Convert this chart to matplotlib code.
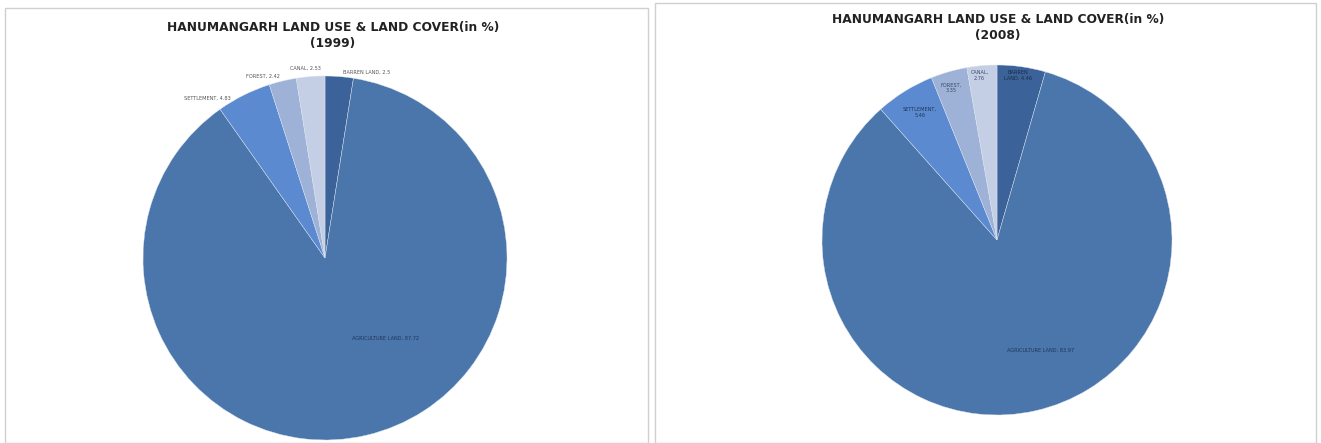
import matplotlib.pyplot as plt
from matplotlib.patches import Rectangle

# land use classes, in the order Excel draws them (clockwise from 12 o'clock)
classes = ['BARREN LAND', 'AGRICULTURE LAND', 'SETTLEMENT', 'FOREST', 'CANAL']
share_1999 = [2.5, 87.72, 4.83, 2.42, 2.53]
share_2008 = [4.46, 83.97, 5.46, 3.35, 2.76]
years = ['1999', '2008']

colors = ['#3c6399', '#4a76ac', '#5b8ad0', '#9db2d6', '#c4cfe6']

fig = plt.figure(figsize=(13.21, 4.43), dpi=100)
W, H = 1321, 443

# chart frames
fig.patches.append(Rectangle((5 / W, 0), 643 / W, 1 - 8 / H, transform=fig.transFigure,
                             fill=False, edgecolor='#d0d0d0', linewidth=1))
fig.patches.append(Rectangle((655 / W, 0), 661 / W, 1 - 3 / H, transform=fig.transFigure,
                             fill=False, edgecolor='#d0d0d0', linewidth=1))


def pie_axes(cx, cy, r):
    return fig.add_axes([(cx - r) / W, (H - cy - r) / H, 2 * r / W, 2 * r / H])


def draw(ax, values, label_pos, label_text, label_ha, label_color):
    ax.pie(values, colors=colors, startangle=90, counterclock=False,
           wedgeprops=dict(edgecolor='#dde4ef', linewidth=0.3))
    ax.set_xlim(-1, 1)
    ax.set_ylim(-1, 1)
    ax.set_aspect('equal')
    ax.axis('off')
    for (x, y), txt, ha, c in zip(label_pos, label_text, label_ha, label_color):
        ax.text(x, y, txt, ha=ha, va='center', fontsize=3.6, color=c,
                linespacing=1.2)


# 1999
ax1 = pie_axes(325, 258, 182)
lab1 = [f'{n}, {v:g}' for n, v in zip(classes, share_1999)]
draw(ax1, share_1999,
     [(0.10, 1.02), (0.33, -0.44), (-0.52, 0.88), (-0.25, 1.0), (-0.11, 1.04)],
     lab1, ['left', 'center', 'right', 'right', 'center'],
     ['#555555', '#1f3558', '#555555', '#555555', '#555555'])
fig.text(333 / W, 1 - 36 / H, 'HANUMANGARH LAND USE & LAND COVER(in %)\n(' + years[0] + ')',
         ha='center', va='center', fontsize=8.8, fontweight='bold', color='#222222',
         linespacing=1.3)

# 2008
ax2 = pie_axes(997, 240, 175)
lab2 = ['BARREN\nLAND, 4.46', 'AGRICULTURE LAND, 83.97', 'SETTLEMENT,\n5.46',
        'FOREST,\n3.35', 'CANAL,\n2.76']
draw(ax2, share_2008,
     [(0.12, 0.94), (0.25, -0.63), (-0.44, 0.73), (-0.26, 0.87), (-0.10, 0.94)],
     lab2, ['center'] * 5,
     ['#1a2a45', '#1f3558', '#1f3558', '#3a4a66', '#3a4a66'])
fig.text(998 / W, 1 - 28 / H, 'HANUMANGARH LAND USE & LAND COVER(in %)\n(' + years[1] + ')',
         ha='center', va='center', fontsize=8.8, fontweight='bold', color='#222222',
         linespacing=1.3)

fig.savefig('out.png', dpi=100)
